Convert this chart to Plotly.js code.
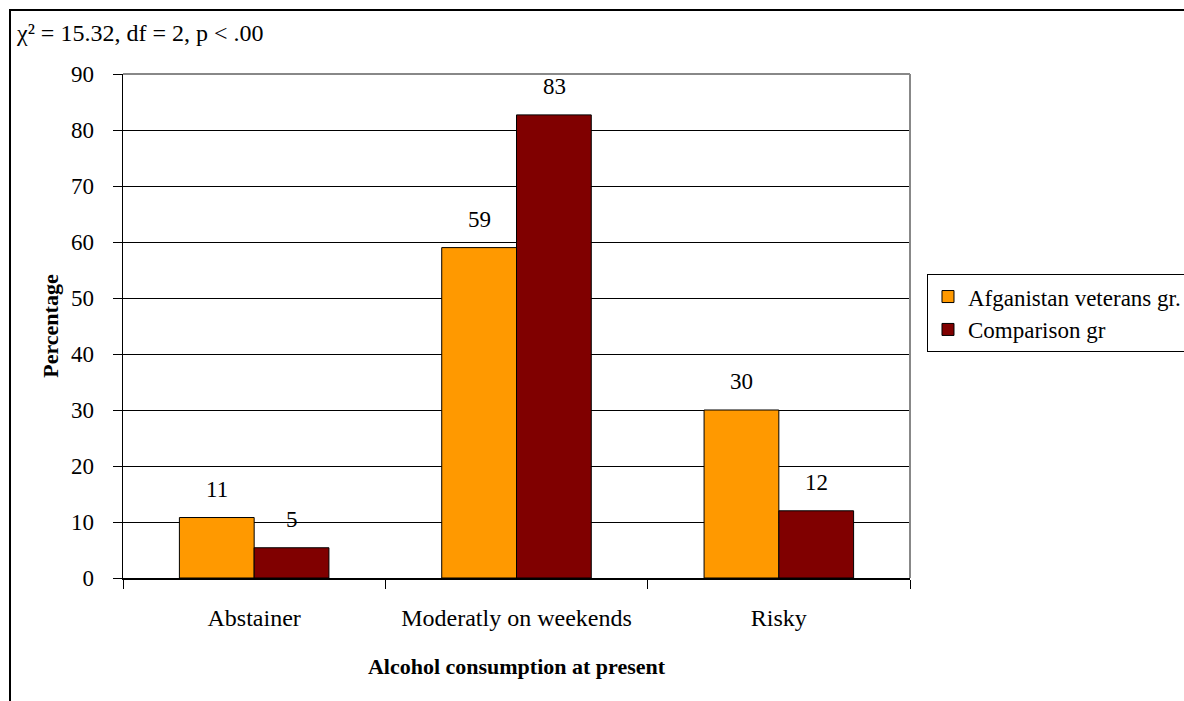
<!DOCTYPE html>
<html>
<head>
<meta charset="utf-8">
<script src="https://cdn.plot.ly/plotly-3.0.1.min.js"></script>
<style>
html,body{margin:0;padding:0;background:#fff;}
#wrap{position:relative;width:1184px;height:701px;overflow:hidden;}
#chart{position:absolute;left:0;top:0;width:1184px;height:701px;}
#frame{position:absolute;left:9px;top:9px;width:1200px;height:720px;border:2px solid #000;pointer-events:none;}
</style>
</head>
<body>
<div id="wrap"><div id="chart"></div><div id="frame"></div></div>
<script>
const categories = ["Abstainer", "Moderatly on weekends", "Risky"];
const seriesNames = ["Afganistan veterans gr.", "Comparison gr"];
const afganistan = [10.8, 59, 30];
const comparison = [5.4, 82.7, 12];
const afganistanLabels = ["11", "59", "30"];
const comparisonLabels = ["5", "83", "12"];
const yTicks = [0, 10, 20, 30, 40, 50, 60, 70, 80, 90];
const colors = ["#FF9900", "#800000"];

const font = "Liberation Serif, Times New Roman, serif";
const fs = 23;

const traces = [
  {type: "bar", name: seriesNames[0], x: categories, y: afganistan,
   marker: {color: colors[0], line: {color: "#000", width: 1}}, hoverinfo: "none"},
  {type: "bar", name: seriesNames[1], x: categories, y: comparison,
   marker: {color: colors[1], line: {color: "#000", width: 1}}, hoverinfo: "none"}
];

const annotations = [];
categories.forEach((c, i) => {
  annotations.push({x: c, y: afganistan[i], text: afganistanLabels[i], showarrow: false,
    xshift: -37.5, yshift: 14, yanchor: "bottom", font: {family: font, size: fs, color: "#000"}});
  annotations.push({x: c, y: comparison[i], text: comparisonLabels[i], showarrow: false,
    xshift: 37.5, yshift: 14, yanchor: "bottom", font: {family: font, size: fs, color: "#000"}});
});
annotations.push({xref: "paper", yref: "paper", x: -0.1385, y: 1.081, xanchor: "left", yanchor: "middle",
  text: "χ² = 15.32, df = 2, p < .00", showarrow: false, font: {family: font, size: 24, color: "#000"}});

const layout = {
  width: 1184, height: 701,
  margin: {l: 123, r: 274, t: 74, b: 123, autoexpand: false},
  paper_bgcolor: "#fff", plot_bgcolor: "#fff",
  font: {family: font, size: fs, color: "#000"},
  barmode: "group", bargap: 0.43, bargroupgap: 0,
  showlegend: true,
  legend: {x: 1.0216, y: 0.603, xanchor: "left", yanchor: "top",
    bordercolor: "#000", borderwidth: 1, bgcolor: "#fff",
    font: {family: font, size: fs, color: "#000"}, tracegroupgap: 0, itemwidth: 30},
  xaxis: {
    type: "category", tickson: "boundaries", ticks: "outside", ticklen: 9, tickcolor: "#000",
    showline: true, linecolor: "#000", linewidth: 1.5, showgrid: false,
    ticklabelstandoff: 18,
    tickfont: {family: font, size: 24, color: "#000"},
    title: {text: "<b>Alcohol consumption at present</b>", standoff: 28,
      font: {family: font, size: 22, color: "#000"}}
  },
  yaxis: {
    range: [0, 90], tickvals: yTicks, ticks: "outside", ticklen: 9, tickcolor: "#000",
    showline: true, linecolor: "#000", linewidth: 1.5,
    showgrid: true, gridcolor: "#000", gridwidth: 1, zeroline: false,
    ticklabelstandoff: 14,
    tickfont: {family: font, size: fs, color: "#000"},
    title: {text: "<b>Percentage</b>", standoff: 6, font: {family: font, size: 22, color: "#000"}}
  },
  shapes: [
    {type: "line", xref: "paper", yref: "paper", x0: 0, x1: 1, y0: 1, y1: 1, layer: "above", line: {color: "#888", width: 2}},
    {type: "line", xref: "paper", yref: "paper", x0: 1, x1: 1, y0: 0, y1: 1, layer: "above", line: {color: "#888", width: 2}}
  ],
  annotations: annotations
};

Plotly.newPlot("chart", traces, layout, {displayModeBar: false, staticPlot: true});
</script>
</body>
</html>
